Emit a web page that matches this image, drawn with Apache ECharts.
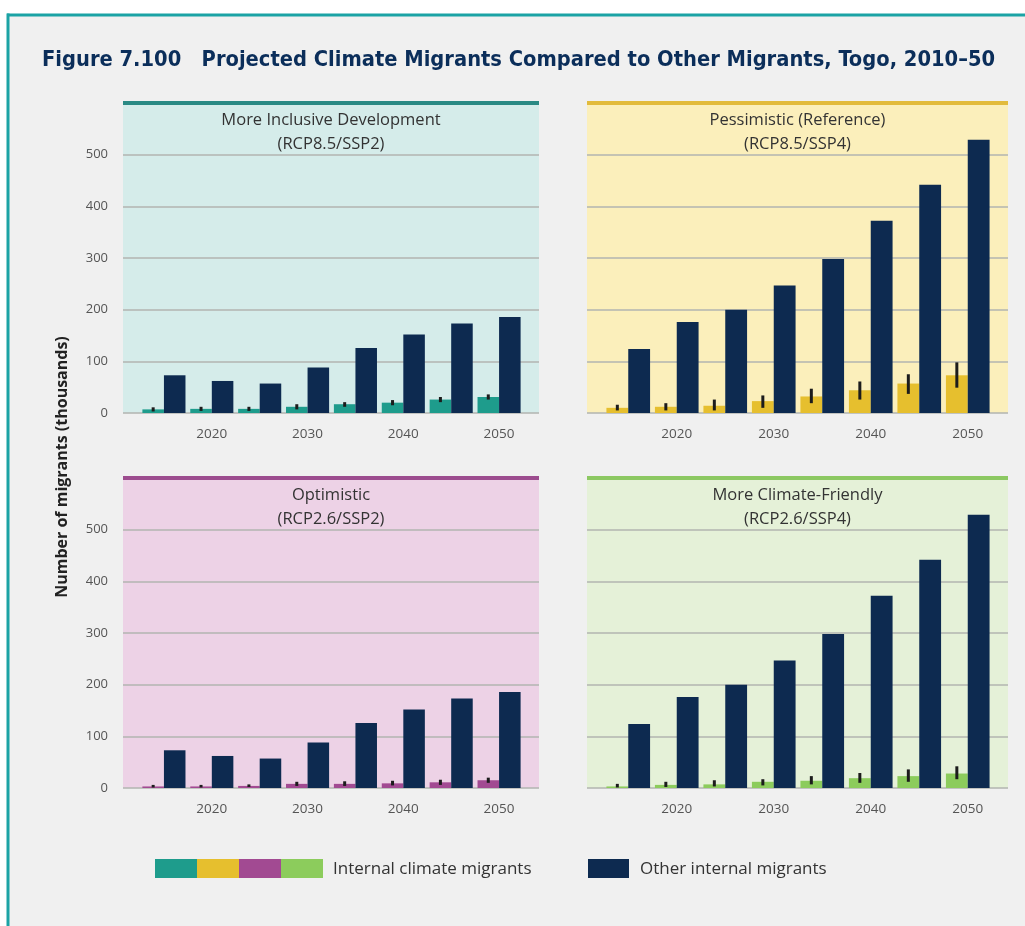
<!DOCTYPE html>
<html>
<head>
<meta charset="utf-8">
<script src="https://cdn.jsdelivr.net/npm/echarts@6/dist/echarts.min.js"></script>
<style>
html,body{margin:0;padding:0;background:#ffffff;}
#chart{width:1025px;height:926px;}
</style>
</head>
<body>
<div id="chart"></div>
<script>
// ---- Data ----
const years = ['2015', '2020', '2025', '2030', '2035', '2040', '2045', '2050'];
const yTicks = [0, 100, 200, 300, 400, 500];

const otherSSP2 = [73, 62, 57, 88, 126, 152, 173, 186];
const otherSSP4 = [124, 176, 200, 247, 298, 372, 442, 529];

const climateInclusive = [7, 8, 8, 12, 17, 20, 26, 31];
const climateInclusiveLow = [3, 4, 4, 7, 12, 15, 21, 26];
const climateInclusiveHigh = [11, 12, 12, 17, 21, 25, 31, 36];

const climatePessimistic = [10, 12, 14, 23, 32, 44, 57, 73];
const climatePessimisticLow = [5, 5, 5, 10, 19, 26, 37, 49];
const climatePessimisticHigh = [16, 19, 26, 34, 47, 61, 75, 98];

const climateOptimistic = [3, 3, 4, 8, 8, 9, 11, 15];
const climateOptimisticLow = [1, 1, 2, 4, 4, 5, 6, 10];
const climateOptimisticHigh = [6, 6, 7, 12, 13, 14, 16, 20];

const climateFriendly = [3, 6, 7, 12, 14, 19, 23, 28];
const climateFriendlyLow = [1, 2, 3, 5, 7, 10, 12, 17];
const climateFriendlyHigh = [8, 12, 15, 17, 23, 29, 36, 42];

const panelTitles = [
  'More Inclusive Development\n(RCP8.5/SSP2)',
  'Pessimistic (Reference)\n(RCP8.5/SSP4)',
  'Optimistic\n(RCP2.6/SSP2)',
  'More Climate-Friendly\n(RCP2.6/SSP4)'
];
const legendClimate = 'Internal climate migrants';
const legendOther = 'Other internal migrants';
const yAxisTitle = 'Number of migrants (thousands)';
const mainTitle = 'Figure 7.100   Projected Climate Migrants Compared to Other Migrants, Togo, 2010\u201350';

// ---- Styling ----
const NAVY = '#0d2a50';
const panels = [
  { left: 123, right: 539, top: 103, bottom: 413, bg: '#d5ecea', bar: '#2a8a84', color: '#1e9c8c', showY: true,
    climate: climateInclusive, low: climateInclusiveLow, high: climateInclusiveHigh, other: otherSSP2 },
  { left: 587, right: 1008, top: 103, bottom: 413, bg: '#fbefbb', bar: '#e2bb3c', color: '#e6bf2e', showY: false,
    climate: climatePessimistic, low: climatePessimisticLow, high: climatePessimisticHigh, other: otherSSP4 },
  { left: 123, right: 539, top: 478, bottom: 788, bg: '#edd2e6', bar: '#9c4c8e', color: '#a24a92', showY: true,
    climate: climateOptimistic, low: climateOptimisticLow, high: climateOptimisticHigh, other: otherSSP2 },
  { left: 587, right: 1008, top: 478, bottom: 788, bg: '#e5f1d8', bar: '#8cc862', color: '#8ccc5c', showY: false,
    climate: climateFriendly, low: climateFriendlyLow, high: climateFriendlyHigh, other: otherSSP4 }
];

const grids = [], xAxes = [], yAxes = [], series = [], titles = [], graphics = [];
const W = 1025, H = 926;

titles.push({
  text: mainTitle, left: 42, top: 49, padding: 0,
  textStyle: { fontFamily: 'DejaVu Sans Condensed', fontWeight: 'bold', fontSize: 21.7, color: '#0b2e5a' }
});

panels.forEach((p, i) => {
  const fg = grids.length;
  // frame grid (background + gridlines)
  grids.push({ left: p.left, top: p.top, width: p.right - p.left, height: p.bottom - p.top,
    show: true, backgroundColor: p.bg, borderWidth: 0, containLabel: false });
  xAxes.push({ gridIndex: fg, type: 'value', min: 0, max: 1, show: false });
  yAxes.push({ gridIndex: fg, type: 'value', min: 0, max: 600, interval: 100,
    axisLine: { show: false }, axisTick: { show: false },
    splitLine: { show: true, lineStyle: { color: '#b2b4b0', width: 1.5 } },
    axisLabel: { show: p.showY, showMaxLabel: false, margin: 15, fontSize: 13, color: '#555',
      fontFamily: 'Open Sans',
      formatter: v => (yTicks.indexOf(v) >= 0 ? String(v) : '') } });
  // bar grid
  const bg = grids.length;
  grids.push({ left: p.left + 17, top: p.top, width: (p.right - p.left) - 33, height: p.bottom - p.top,
    show: false, containLabel: false });
  xAxes.push({ gridIndex: bg, type: 'category', data: years,
    axisLine: { show: false }, axisTick: { show: false },
    axisLabel: { interval: 0, margin: 14, fontSize: 13.5, color: '#555', fontFamily: 'Open Sans',
      formatter: (v, idx) => (idx % 2 === 1 ? v : '') } });
  yAxes.push({ gridIndex: bg, type: 'value', min: 0, max: 600, interval: 100, show: false,
    splitLine: { show: false } });
  const xi = xAxes.length - 1, yi = yAxes.length - 1;
  series.push({
    type: 'bar', name: legendClimate, xAxisIndex: xi, yAxisIndex: yi,
    data: p.climate, barGap: '0%', barCategoryGap: '10%',
    itemStyle: { color: p.color }, silent: true, animation: false
  });
  series.push({
    type: 'bar', name: legendOther, xAxisIndex: xi, yAxisIndex: yi,
    data: p.other, barGap: '0%', barCategoryGap: '10%',
    itemStyle: { color: NAVY }, silent: true, animation: false
  });
  series.push({
    type: 'custom', xAxisIndex: xi, yAxisIndex: yi, silent: true, animation: false, z: 5,
    data: p.low.map((lo, k) => [k, lo, p.high[k]]),
    encode: { x: 0, y: [1, 2] },
    renderItem: function (params, api) {
      const band = api.size([1, 0])[0];
      const bw = band * 0.9 / 2;
      const top = api.coord([api.value(0), api.value(2)]);
      const bot = api.coord([api.value(0), api.value(1)]);
      const cx = top[0] - bw / 2;
      return { type: 'line', shape: { x1: cx, y1: top[1], x2: cx, y2: bot[1] },
        style: { stroke: '#1c1c1c', lineWidth: 3 } };
    }
  });
  // top colored bar
  graphics.push({ type: 'rect', z: 100, shape: { x: p.left, y: p.top - 2, width: p.right - p.left, height: 4 },
    style: { fill: p.bar } });
  // panel titles
  titles.push({ text: panelTitles[i], left: (p.left + p.right) / 2, top: p.top + 5, textAlign: 'center', padding: 0,
    textStyle: { fontFamily: 'Open Sans', fontWeight: 'normal', fontSize: 16.5, color: '#333', lineHeight: 24 } });
});

// page frame
graphics.unshift({ type: 'rect', z: -10, shape: { x: 7, y: 15, width: W - 7, height: H - 15 },
  style: { fill: '#f0f0f0' } });
graphics.push({ type: 'rect', z: 100, shape: { x: 7, y: 13.5, width: W - 7, height: 3 }, style: { fill: '#1ba3a5' } });
graphics.push({ type: 'rect', z: 100, shape: { x: 6.5, y: 13.5, width: 3, height: H - 13.5 }, style: { fill: '#1ba3a5' } });

// y-axis title
graphics.push({ type: 'text', z: 100, x: 62, y: 467, rotation: Math.PI / 2,
  style: { text: yAxisTitle, fontFamily: 'Open Sans', fontWeight: 'bold', fontSize: 16, fill: '#222',
    textAlign: 'center', textVerticalAlign: 'middle' } });

// legend
const legendColors = panels.map(p => p.color);
legendColors.forEach((c, k) => {
  graphics.push({ type: 'rect', z: 100, shape: { x: 155 + k * 42, y: 859, width: 42, height: 19 }, style: { fill: c } });
});
graphics.push({ type: 'text', z: 100, x: 333, y: 869,
  style: { text: legendClimate, fontFamily: 'Open Sans', fontSize: 17, fill: '#333', textVerticalAlign: 'middle' } });
graphics.push({ type: 'rect', z: 100, shape: { x: 588, y: 859, width: 41, height: 19 }, style: { fill: NAVY } });
graphics.push({ type: 'text', z: 100, x: 640, y: 869,
  style: { text: legendOther, fontFamily: 'Open Sans', fontSize: 17, fill: '#333', textVerticalAlign: 'middle' } });

const chart = echarts.init(document.getElementById('chart'), null, { renderer: 'canvas' });
chart.setOption({
  animation: false,
  backgroundColor: '#ffffff',
  title: titles,
  grid: grids,
  xAxis: xAxes,
  yAxis: yAxes,
  series: series,
  graphic: graphics
});
</script>
</body>
</html>
